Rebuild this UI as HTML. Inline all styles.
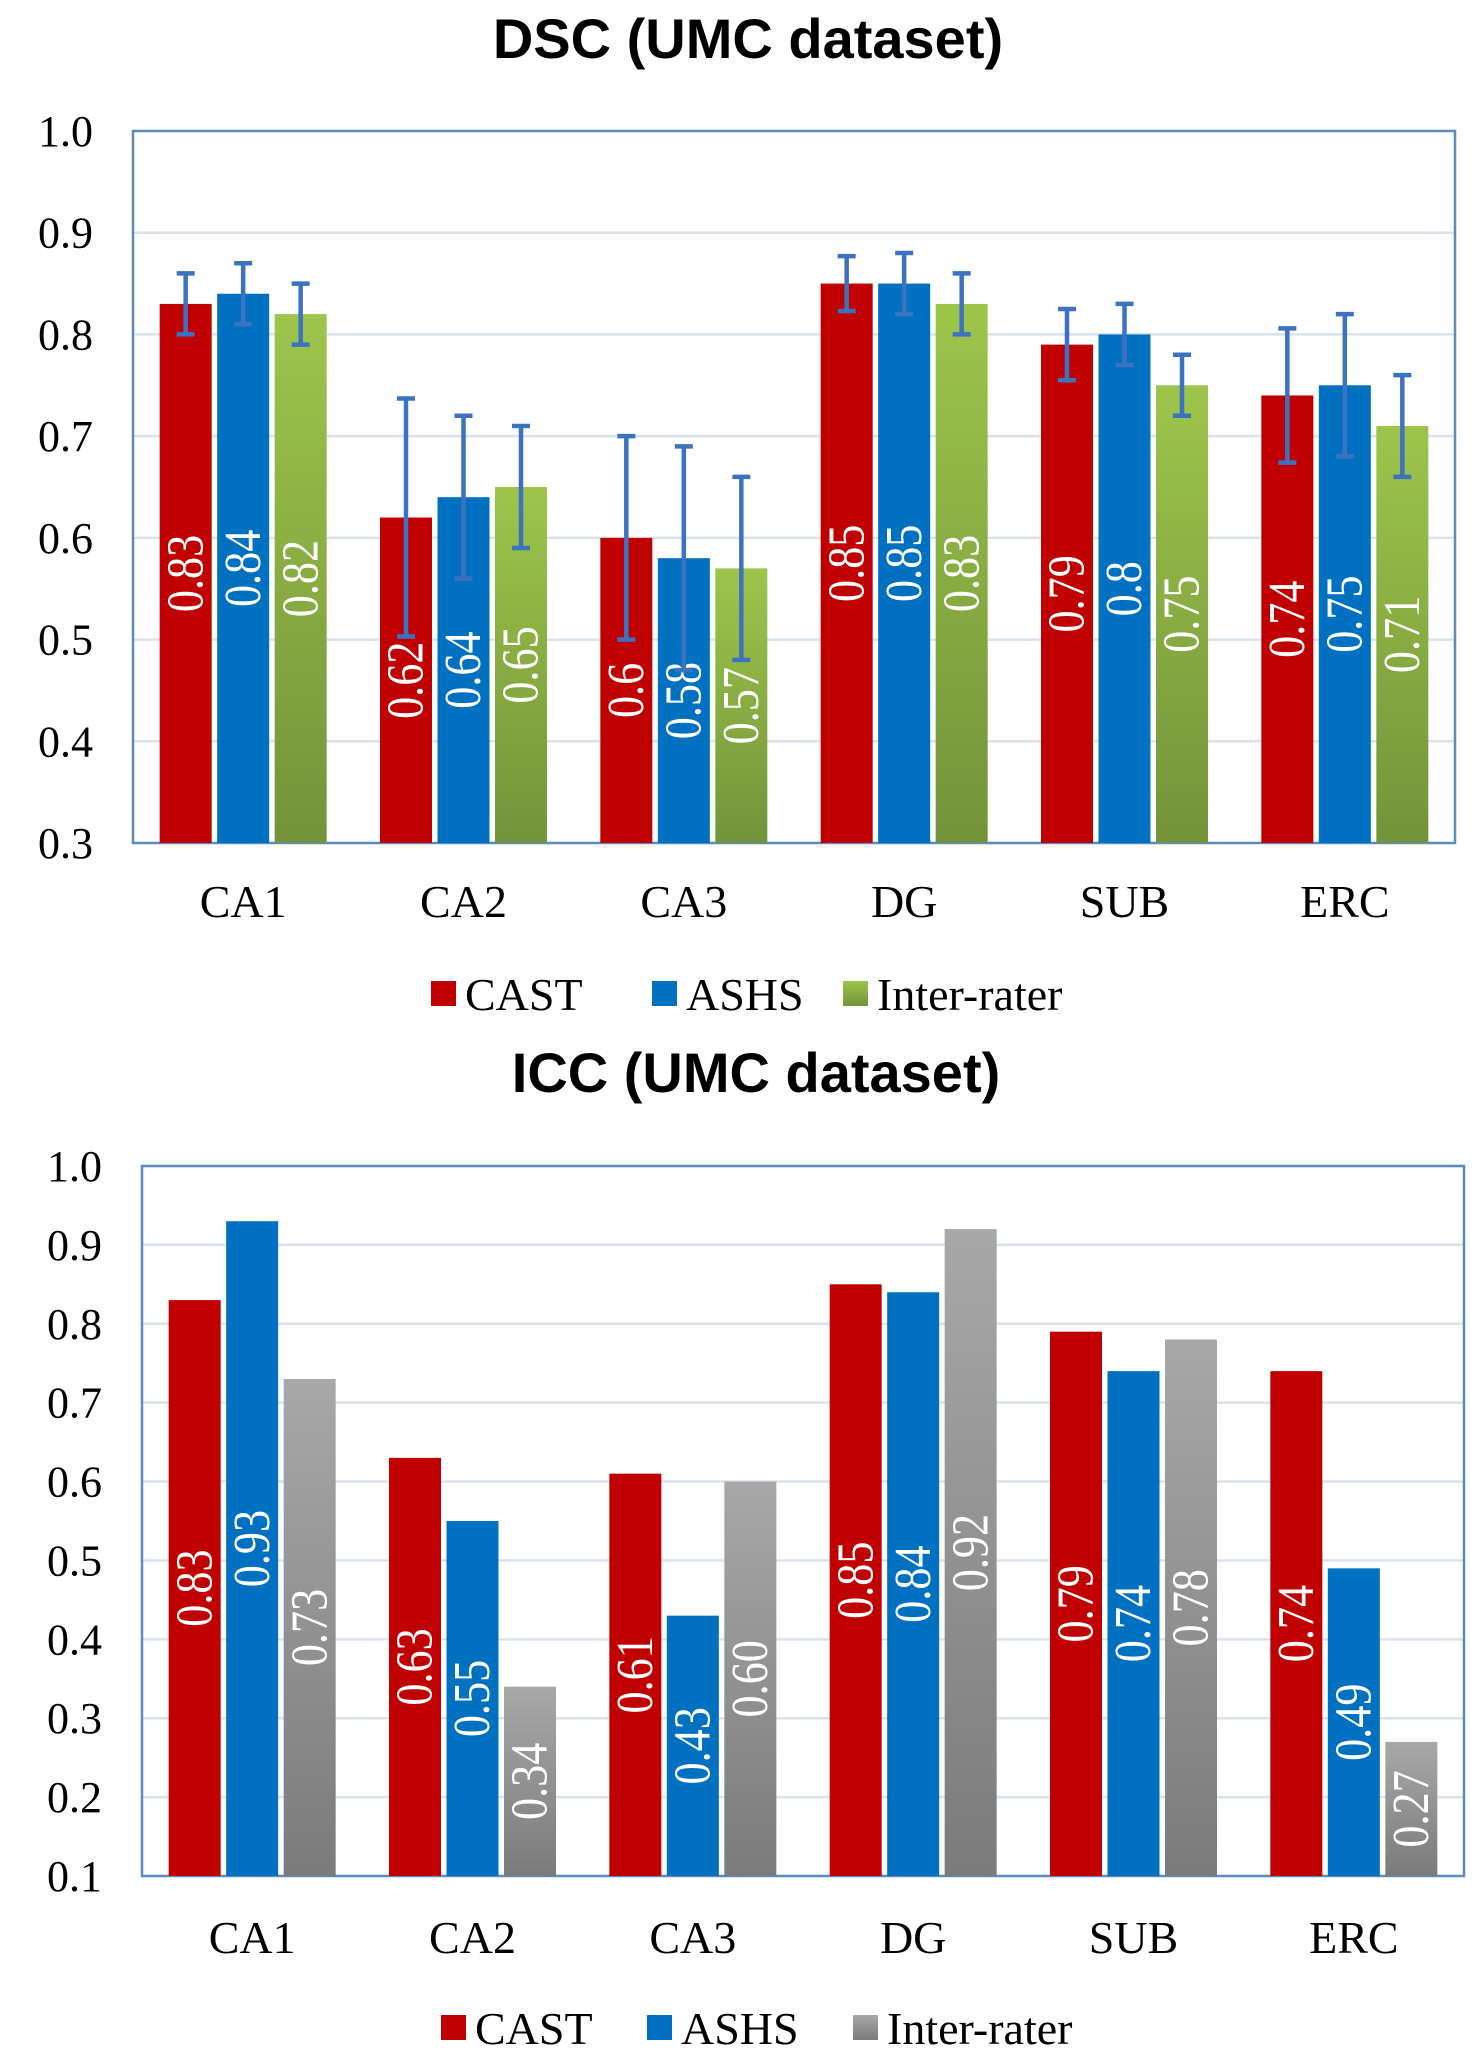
<!DOCTYPE html>
<html><head><meta charset="utf-8"><style>
html,body{margin:0;padding:0;background:#fff;}
svg{display:block;}
</style></head><body>
<svg id="svg" width="1483" height="2071" viewBox="0 0 1483 2071" xmlns="http://www.w3.org/2000/svg">
<defs>
<linearGradient id="gGreen" x1="0" y1="0" x2="0" y2="1"><stop offset="0" stop-color="#9dc54b"/><stop offset="1" stop-color="#74933a"/></linearGradient>
<linearGradient id="gGray" x1="0" y1="0" x2="0" y2="1"><stop offset="0" stop-color="#a8a8a8"/><stop offset="1" stop-color="#7b7b7b"/></linearGradient>
</defs>
<text x="748" y="58" text-anchor="middle" font-family="Liberation Sans, sans-serif" font-weight="bold" font-size="56">DSC (UMC dataset)</text>
<text x="756" y="1092" text-anchor="middle" font-family="Liberation Sans, sans-serif" font-weight="bold" font-size="56">ICC (UMC dataset)</text>
</svg>
<script>
const categories = ["CA1","CA2","CA3","DG","SUB","ERC"];
const seriesNames = ["CAST","ASHS","Inter-rater"];
const dscCast = [0.83,0.62,0.6,0.85,0.79,0.74];
const dscAshs = [0.84,0.64,0.58,0.85,0.8,0.75];
const dscInter = [0.82,0.65,0.57,0.83,0.75,0.71];
const dscCastErr = [0.03,0.117,0.1,0.027,0.035,0.066];
const dscAshsErr = [0.03,0.08,0.11,0.03,0.03,0.07];
const dscInterErr = [0.03,0.06,0.09,0.03,0.03,0.05];
const dscLabels = [["0.83","0.62","0.6","0.85","0.79","0.74"],["0.84","0.64","0.58","0.85","0.8","0.75"],["0.82","0.65","0.57","0.83","0.75","0.71"]];
const dscTicks = ["0.3","0.4","0.5","0.6","0.7","0.8","0.9","1.0"];
const iccCast = [0.83,0.63,0.61,0.85,0.79,0.74];
const iccAshs = [0.93,0.55,0.43,0.84,0.74,0.49];
const iccInter = [0.73,0.34,0.60,0.92,0.78,0.27];
const iccLabels = [["0.83","0.63","0.61","0.85","0.79","0.74"],["0.93","0.55","0.43","0.84","0.74","0.49"],["0.73","0.34","0.60","0.92","0.78","0.27"]];
const iccTicks = ["0.1","0.2","0.3","0.4","0.5","0.6","0.7","0.8","0.9","1.0"];

const NS="http://www.w3.org/2000/svg";
const svg=document.getElementById('svg');
function mk(tag,attrs,parent){const e=document.createElementNS(NS,tag);for(const k in attrs)e.setAttribute(k,attrs[k]);(parent||svg).appendChild(e);return e;}

function drawChart(cfg){
  const {L,R,T,B,ymin,ymax,ticks,series,errs,labels,fills,legendY,legendX,prefix,xLabelY}=cfg;
  const y=v=>B-(v-ymin)/(ymax-ymin)*(B-T);
  const gw=(R-L)/categories.length;
  const xc=i=>L+gw*(i+0.5);
  const g=mk('g',{});
  
  
  ticks.forEach(t=>{
    const v=parseFloat(t), yy=y(v);
    if(v>ymin && v<ymax){const gl=mk('line',{x1:L,x2:R,y1:yy,y2:yy,stroke:'#d9e2ee','stroke-width':2.5},g);
      
      }
    const tl=mk('text',{x:L-40,y:yy+15,'text-anchor':'end',style:'font-family:"Liberation Serif",serif;font-size:44px',fill:'#000'},g);
    tl.textContent=t;
    
    
  });
  const fr=mk('rect',{x:L,y:T,width:R-L,height:B-T,fill:'none',stroke:'#5b8bbf','stroke-width':2.5},g);
  
  
  const bw=52, step=57.5;
  categories.forEach((c,i)=>{
    series.forEach((s,k)=>{
      const bx=xc(i)+(k-1)*step-bw/2, top=y(s[i]);
      const r=mk('rect',{x:bx,y:top,width:bw,height:B-top,fill:fills[k]},g);
      
      
      const cx=bx+bw/2, cy=(top+B)/2;
      const vl=mk('text',{x:0,y:0,transform:'translate('+cx+' '+cy+') rotate(-90) scale(0.85 1)','text-anchor':'middle','dominant-baseline':'central',style:'font-family:"Liberation Serif",serif;font-size:52px',fill:'#fff'},g);
      vl.textContent=labels[k][i];
      
      
    });
    if(errs){
      series.forEach((s,k)=>{
        const cx=xc(i)+(k-1)*step, e=errs[k][i];
        const hi=y(s[i]+e), lo=y(Math.max(ymin,s[i]-e));
        const eg=mk('g',{stroke:'#3d72c0','stroke-width':4.5},g);
        
        
        mk('line',{x1:cx,x2:cx,y1:hi,y2:lo},eg);
        mk('line',{x1:cx-9,x2:cx+9,y1:hi,y2:hi},eg);
        mk('line',{x1:cx-9,x2:cx+9,y1:lo,y2:lo},eg);
      });
    }
    const xl=mk('text',{x:xc(i),y:xLabelY,'text-anchor':'middle',style:'font-family:"Liberation Serif",serif;font-size:46px',fill:'#000'},g);
    xl.textContent=c;
    
    
  });
  seriesNames.forEach((n,k)=>{
    const lg=mk('g',{},g);
    
    
    mk('rect',{x:legendX[k],y:legendY-13,width:25,height:25,fill:fills[k]},lg);
    const t=mk('text',{x:legendX[k]+34,y:legendY+16,style:'font-family:"Liberation Serif",serif;font-size:46px',fill:'#000'},lg);
    t.textContent=n;
  });
}
drawChart({L:133,R:1455,T:131,B:843,ymin:0.3,ymax:1.0,ticks:dscTicks,series:[dscCast,dscAshs,dscInter],
  errs:[dscCastErr,dscAshsErr,dscInterErr],labels:dscLabels,fills:['#c00000','#0070c0','url(#gGreen)'],
  legendY:994,legendX:[431,652,843],prefix:'dsc',xLabelY:917});
drawChart({L:142,R:1464,T:1166,B:1876,ymin:0.1,ymax:1.0,ticks:iccTicks,series:[iccCast,iccAshs,iccInter],
  errs:null,labels:iccLabels,fills:['#c00000','#0070c0','url(#gGray)'],
  legendY:2028,legendX:[441,647,853],prefix:'icc',xLabelY:1953});
</script>
</body></html>
